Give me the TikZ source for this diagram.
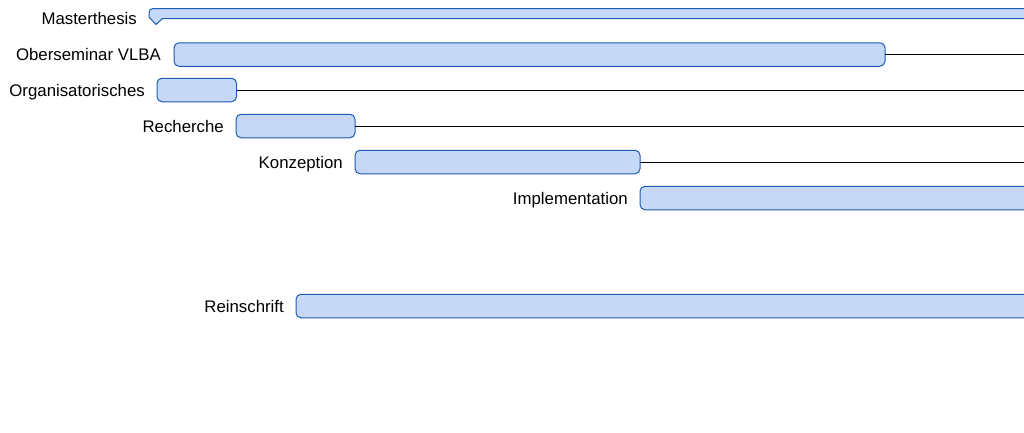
\documentclass[tikz,border=0pt]{standalone}
\usepackage{fontspec}
\setmainfont{Liberation Sans}
\definecolor{barfill}{HTML}{C5D9F7}
\definecolor{barline}{HTML}{1D5BB5}
\begin{document}
\begin{tikzpicture}[x=1pt,y=-1pt,
  bar/.style={draw=barline, fill=barfill, rounded corners=5pt, line width=1pt,
    minimum height=23.5pt, inner sep=0pt, anchor=west, outer sep=0pt},
  lbl/.style={anchor=base east, inner sep=0pt, font=\fontsize{16.8}{20}\selectfont},
  link/.style={draw=black, line width=0.8pt}]
\useasboundingbox (0,0) rectangle (1024,432);
\clip (0,0) rectangle (1024,432);
\coordinate (re) at (1030,0);
% summary bar
\draw[draw=barline, fill=barfill, line width=1pt, line join=round]
  (1040,8.5) -- (153,8.5) to[out=180,in=90] (149,12.5) -- (149,17) -- (156,24.5) -- (162.5,18.5) -- (1040,18.5) -- cycle;
\node[lbl] (lmaster) at (137,24) {Masterthesis};
% bars
\node[bar, minimum width=711pt] (ober) at (174,54.5) {};
\node[bar, minimum width=79.5pt] (orga) at (157,90) {};
\node[bar, minimum width=119pt] (rech) at (236,126) {};
\node[bar, minimum width=285pt] (konz) at (355,162) {};
\node[bar, minimum width=400pt] (impl) at (640,198) {};
\node[bar, minimum width=740pt] (rein) at (296,306) {};
% labels
\node[lbl] (lober) at (161,60) {Oberseminar VLBA};
\node[lbl] (lorga) at (145,96) {Organisatorisches};
\node[lbl] (lrech) at (224,132) {Recherche};
\node[lbl] (lkonz) at (343,168) {Konzeption};
\node[lbl] (limpl) at (628,204) {Implementation};
\node[lbl] (lrein) at (284,312) {Reinschrift};
% links
\draw[link] (ober.east) -- (ober.east -| re);
\draw[link] (orga.east) -- (orga.east -| re);
\draw[link] (rech.east) -- (rech.east -| re);
\draw[link] (konz.east) -- (konz.east -| re);
\end{tikzpicture}
\end{document}
